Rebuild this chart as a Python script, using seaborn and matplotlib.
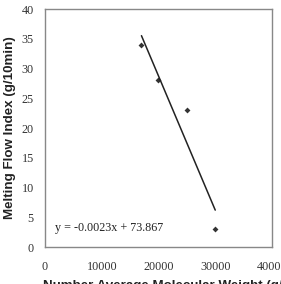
import numpy as np
import pandas as pd
import seaborn as sns
from matplotlib import pyplot as plt

# data
mol_weight = [17000, 20000, 25000, 30000]
mfi = [34, 28, 23, 3]
x_ticks = [0, 10000, 20000, 30000, 40000]
y_ticks = [0, 5, 10, 15, 20, 25, 30, 35, 40]
eq_label = 'y = -0.0023x + 73.867'

df = pd.DataFrame({'mw': mol_weight, 'mfi': mfi})

sns.set_style('white')
plt.rcParams['font.family'] = ['Liberation Serif', 'DejaVu Serif']

fig = plt.figure(figsize=(2.81, 2.84), dpi=100)
ax = fig.add_axes([0.160, 0.130, 0.808, 0.838])

sns.regplot(ax=ax, data=df, x='mw', y='mfi', ci=None, truncate=True,
            marker='D',
            scatter_kws={'s': 9, 'color': 'black', 'linewidths': 0},
            line_kws={'color': '#222222', 'linewidth': 1.1})

ax.set_xlim(0, 40000)
ax.set_ylim(0, 40)
ax.set_xticks(x_ticks)
ax.set_yticks(y_ticks)
ax.tick_params(direction='in', length=3, width=0.8, color='#777777',
               labelsize=8.7, labelcolor='#333333')
ax.tick_params(axis='y', pad=8)
ax.tick_params(axis='x', pad=10)
for s in ax.spines.values():
    s.set_color('#888888')
    s.set_linewidth(1.0)

ax.text(1800, 3.2, eq_label, fontsize=8.7, color='#222222', va='center')

ax.set_ylabel('Melting Flow Index (g/10min)', family=['Liberation Sans', 'DejaVu Sans'],
              fontweight='bold', fontsize=9.6, color='#222222', labelpad=4)
ax.set_xlabel('Number Average Molecular Weight (g/mol)', family=['Liberation Sans', 'DejaVu Sans'],
              fontweight='bold', fontsize=9.6, color='#222222')
ax.xaxis.set_label_coords(-0.01, -0.14)
ax.xaxis.label.set_ha('left')
ax.xaxis.label.set_va('top')

fig.savefig('out.png', dpi=100)
